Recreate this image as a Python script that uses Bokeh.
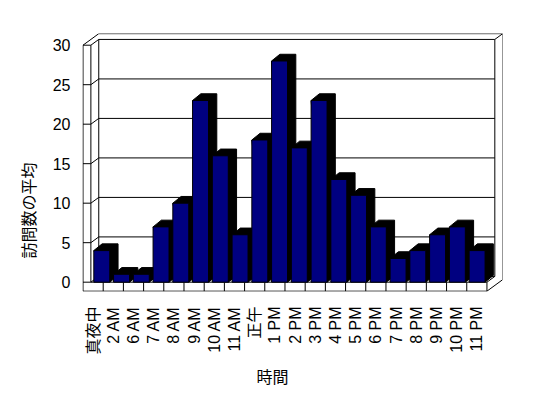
import numpy as np
from bokeh.plotting import figure
from bokeh.models import Range1d, FixedTicker, ColumnDataSource, Title
from bokeh.embed import file_html
from bokeh.resources import INLINE

# ---- data ----
categories = ["真夜中", "2 AM", "6 AM", "7 AM", "8 AM", "9 AM", "10 AM", "11 AM", "正午",
              "1 PM", "2 PM", "3 PM", "4 PM", "5 PM", "6 PM", "7 PM", "8 PM", "9 PM",
              "10 PM", "11 PM"]
visits = [4, 1, 1, 7, 10, 23, 16, 6, 18, 28, 17, 23, 13, 11, 7, 3, 4, 6, 7, 4]
y_ticks = [0, 5, 10, 15, 20, 25, 30]
x_title = "時間"
y_title = "訪問数の平均"

# ---- layout constants (3D frame geometry, in axis units) ----
N = len(categories)
YMAX = y_ticks[-1]
DX, DY = 0.39, 0.73          # depth offset of the walls
W = DX                       # side-wall slab thickness
FLOOR_T = -1.14              # floor slab thickness (below 0)
BAR_X0, BAR_PITCH, BAR_W = 0.93, 0.978, 0.79
BDX, BDY = 0.41, 0.85        # bar extrusion
FONT = "Liberation Sans, Noto Sans CJK JP"
CJK = "Noto Sans CJK JP"

p = figure(width=548, height=398,
           x_range=Range1d(-0.025, 20.77), y_range=Range1d(-1.18, 31.48),
           output_backend="svg", toolbar_location=None,
           min_border_left=82, min_border_right=46, min_border_top=33, min_border_bottom=107)
p.outline_line_color = None
p.grid.visible = False
p.background_fill_color = "white"
p.border_fill_color = "white"

# ---- frame lines ----
xs, ys = [], []
def seg(x0, y0, x1, y1):
    xs.append([x0, x1]); ys.append([y0, y1])

# left wall slab
seg(0, FLOOR_T, 0, YMAX)
seg(W, 0, W, YMAX)
for v in y_ticks:
    seg(0, v, W, v)                          # front-face stubs
    seg(W, v, W + DX, v + DY)                # diagonals on inner side wall
    seg(W + DX, v + DY, N + DX, v + DY)      # back-wall gridlines
seg(0, YMAX, 2 * DX, YMAX + 2 * DY)          # top outer diagonal
seg(W + DX, DY, W + DX, YMAX + DY)           # back wall left edge
seg(2 * DX, YMAX + 2 * DY, N + 2 * DX, YMAX + 2 * DY)  # back wall outer top
seg(N + DX, YMAX + DY, N + 2 * DX, YMAX + 2 * DY)      # top right diagonal
seg(N + DX, DY, N + DX, YMAX + DY)           # back wall inner right
seg(N + 2 * DX, FLOOR_T + 2 * DY, N + 2 * DX, YMAX + 2 * DY)  # back wall outer right
# floor slab
seg(0, FLOOR_T, N, FLOOR_T)
seg(W, 0, N, 0)
seg(N, FLOOR_T, N, 0)
for k in range(1, N):
    seg(k, FLOOR_T, k, 0)
seg(N, FLOOR_T, N + 2 * DX, FLOOR_T + 2 * DY)
seg(N, 0, N + DX, DY)

p.multi_line(xs, ys, line_color="black", line_width=1)

# ---- bars (side/top then front, left to right) ----
pxs, pys, cols = [], [], []
for i, v in enumerate(visits):
    cx = BAR_X0 + BAR_PITCH * i
    xl, xr = cx - BAR_W / 2, cx + BAR_W / 2
    pxs.append([xl, xl + BDX, xr + BDX, xr + BDX, xr])
    pys.append([v, v + BDY, v + BDY, BDY, 0])
    cols.append("black")
    pxs.append([xl, xr, xr, xl])
    pys.append([0, 0, v, v])
    cols.append("#000080")
src = ColumnDataSource(dict(xs=pxs, ys=pys, c=cols))
p.patches("xs", "ys", source=src, fill_color="c", line_color="black", line_width=1)

# ---- axes ----
p.yaxis.ticker = FixedTicker(ticks=y_ticks)
p.yaxis.axis_line_color = None
p.yaxis.major_tick_line_color = None
p.yaxis.minor_tick_line_color = None
p.yaxis.major_tick_out = 0
p.yaxis.major_tick_in = 0
p.yaxis.major_label_standoff = 12
p.yaxis.major_label_text_font = FONT
p.yaxis.major_label_text_font_size = "16px"
p.yaxis.major_label_text_color = "black"

tick_pos = [i + 0.5 for i in range(N)]
p.xaxis.ticker = FixedTicker(ticks=tick_pos)
p.xaxis.major_label_overrides = {t: c for t, c in zip(tick_pos, categories)}
p.xaxis.major_label_orientation = np.pi / 2
p.xaxis.axis_line_color = None
p.xaxis.major_tick_line_color = None
p.xaxis.minor_tick_line_color = None
p.xaxis.major_tick_out = 0
p.xaxis.major_tick_in = 0
p.xaxis.major_label_standoff = 15
p.xaxis.major_label_text_font = FONT
p.xaxis.major_label_text_font_size = "16px"
p.xaxis.major_label_text_color = "black"

# ---- axis titles ----
p.add_layout(Title(text=y_title, align="left", offset=33, standoff=20,
                   text_font=CJK, text_font_size="16px", text_font_style="normal",
                   text_color="black"), "left")
p.add_layout(Title(text=x_title, align="left", offset=174, standoff=8,
                   text_font=CJK, text_font_size="16px", text_font_style="normal",
                   text_color="black"), "below")

open("out.html", "w").write(file_html(p, INLINE))
